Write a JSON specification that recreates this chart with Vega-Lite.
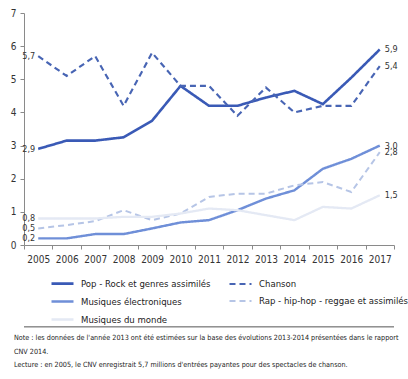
{
  "$schema": "https://vega.github.io/schema/vega-lite/v6.json",
  "width": 370,
  "height": 232,
  "autosize": "none",
  "padding": {"left": 24, "top": 13, "right": 14, "bottom": 134},
  "config": {
    "view": {"stroke": null},
    "locale": {"number": {"decimal": ",", "thousands": " ", "grouping": [3], "currency": ["", " €"]}},
    "font": "DejaVu Sans Condensed, Liberation Sans Narrow, Open Sans, sans-serif",
    "axis": {"labelFont": "DejaVu Sans Condensed, Liberation Sans Narrow, Open Sans, sans-serif", "labelColor": "#333333", "labelFontSize": 10, "domainColor": "#8a8a8a", "tickColor": "#8a8a8a", "grid": false, "title": null, "labelOverlap": false, "tickSize": 4},
    "axisY": {"values": [0, 1, 2, 3, 4, 5, 6, 7], "labelPadding": 4},
    "axisX": {"labelPadding": 5, "labelAngle": 0}
  },
  "data": {"values": [
    {"year": 2005, "series": "Pop - Rock et genres assimilés", "value": 2.9},
    {"year": 2006, "series": "Pop - Rock et genres assimilés", "value": 3.15},
    {"year": 2007, "series": "Pop - Rock et genres assimilés", "value": 3.15},
    {"year": 2008, "series": "Pop - Rock et genres assimilés", "value": 3.25},
    {"year": 2009, "series": "Pop - Rock et genres assimilés", "value": 3.75},
    {"year": 2010, "series": "Pop - Rock et genres assimilés", "value": 4.8},
    {"year": 2011, "series": "Pop - Rock et genres assimilés", "value": 4.2},
    {"year": 2012, "series": "Pop - Rock et genres assimilés", "value": 4.2},
    {"year": 2013, "series": "Pop - Rock et genres assimilés", "value": 4.45},
    {"year": 2014, "series": "Pop - Rock et genres assimilés", "value": 4.65},
    {"year": 2015, "series": "Pop - Rock et genres assimilés", "value": 4.25},
    {"year": 2016, "series": "Pop - Rock et genres assimilés", "value": 5.05},
    {"year": 2017, "series": "Pop - Rock et genres assimilés", "value": 5.9},
    {"year": 2005, "series": "Chanson", "value": 5.7},
    {"year": 2006, "series": "Chanson", "value": 5.1},
    {"year": 2007, "series": "Chanson", "value": 5.7},
    {"year": 2008, "series": "Chanson", "value": 4.2},
    {"year": 2009, "series": "Chanson", "value": 5.8},
    {"year": 2010, "series": "Chanson", "value": 4.8},
    {"year": 2011, "series": "Chanson", "value": 4.8},
    {"year": 2012, "series": "Chanson", "value": 3.9},
    {"year": 2013, "series": "Chanson", "value": 4.75},
    {"year": 2014, "series": "Chanson", "value": 4.0},
    {"year": 2015, "series": "Chanson", "value": 4.2},
    {"year": 2016, "series": "Chanson", "value": 4.2},
    {"year": 2017, "series": "Chanson", "value": 5.4},
    {"year": 2005, "series": "Musiques électroniques", "value": 0.2},
    {"year": 2006, "series": "Musiques électroniques", "value": 0.2},
    {"year": 2007, "series": "Musiques électroniques", "value": 0.33},
    {"year": 2008, "series": "Musiques électroniques", "value": 0.33},
    {"year": 2009, "series": "Musiques électroniques", "value": 0.5},
    {"year": 2010, "series": "Musiques électroniques", "value": 0.68},
    {"year": 2011, "series": "Musiques électroniques", "value": 0.75},
    {"year": 2012, "series": "Musiques électroniques", "value": 1.05},
    {"year": 2013, "series": "Musiques électroniques", "value": 1.4},
    {"year": 2014, "series": "Musiques électroniques", "value": 1.65},
    {"year": 2015, "series": "Musiques électroniques", "value": 2.3},
    {"year": 2016, "series": "Musiques électroniques", "value": 2.6},
    {"year": 2017, "series": "Musiques électroniques", "value": 3.0},
    {"year": 2005, "series": "Rap - hip-hop - reggae et assimilés", "value": 0.5},
    {"year": 2006, "series": "Rap - hip-hop - reggae et assimilés", "value": 0.6},
    {"year": 2007, "series": "Rap - hip-hop - reggae et assimilés", "value": 0.72},
    {"year": 2008, "series": "Rap - hip-hop - reggae et assimilés", "value": 1.05},
    {"year": 2009, "series": "Rap - hip-hop - reggae et assimilés", "value": 0.75},
    {"year": 2010, "series": "Rap - hip-hop - reggae et assimilés", "value": 0.95},
    {"year": 2011, "series": "Rap - hip-hop - reggae et assimilés", "value": 1.45},
    {"year": 2012, "series": "Rap - hip-hop - reggae et assimilés", "value": 1.55},
    {"year": 2013, "series": "Rap - hip-hop - reggae et assimilés", "value": 1.55},
    {"year": 2014, "series": "Rap - hip-hop - reggae et assimilés", "value": 1.8},
    {"year": 2015, "series": "Rap - hip-hop - reggae et assimilés", "value": 1.9},
    {"year": 2016, "series": "Rap - hip-hop - reggae et assimilés", "value": 1.6},
    {"year": 2017, "series": "Rap - hip-hop - reggae et assimilés", "value": 2.8},
    {"year": 2005, "series": "Musiques du monde", "value": 0.8},
    {"year": 2006, "series": "Musiques du monde", "value": 0.8},
    {"year": 2007, "series": "Musiques du monde", "value": 0.8},
    {"year": 2008, "series": "Musiques du monde", "value": 0.85},
    {"year": 2009, "series": "Musiques du monde", "value": 0.85},
    {"year": 2010, "series": "Musiques du monde", "value": 0.95},
    {"year": 2011, "series": "Musiques du monde", "value": 1.1},
    {"year": 2012, "series": "Musiques du monde", "value": 1.05},
    {"year": 2013, "series": "Musiques du monde", "value": 0.9},
    {"year": 2014, "series": "Musiques du monde", "value": 0.75},
    {"year": 2015, "series": "Musiques du monde", "value": 1.15},
    {"year": 2016, "series": "Musiques du monde", "value": 1.1},
    {"year": 2017, "series": "Musiques du monde", "value": 1.5}
  ]},
  "layer": [
    {
      "mark": {"type": "line", "clip": false},
      "encoding": {
        "x": {"field": "year", "type": "ordinal", "scale": {"type": "band", "paddingInner": 0, "paddingOuter": 0},
              "axis": {"tickBand": "extent"}},
        "y": {"field": "value", "type": "quantitative", "scale": {"domain": [0, 7], "nice": false, "zero": false}},
        "color": {"field": "series", "type": "nominal",
          "scale": {"domain": ["Pop - Rock et genres assimilés", "Musiques électroniques", "Musiques du monde", "Chanson", "Rap - hip-hop - reggae et assimilés"],
                    "range": ["#3a5ab6", "#6f8fd8", "#e4e9f4", "#4865b4", "#b6c5e6"]},
          "legend": {"orient": "none", "legendX": 26, "legendY": 258, "columns": 2, "title": null,
                     "symbolType": "stroke", "symbolSize": 484, "symbolStrokeWidth": 2.5,
                     "labelFont": "DejaVu Sans Condensed, Liberation Sans Narrow, Open Sans, sans-serif", "labelFontSize": 9.5, "labelColor": "#222222",
                     "labelOffset": 6, "rowPadding": -4, "columnPadding": 14, "labelLimit": 300}},
        "strokeDash": {"field": "series", "type": "nominal",
          "scale": {"domain": ["Pop - Rock et genres assimilés", "Musiques électroniques", "Musiques du monde", "Chanson", "Rap - hip-hop - reggae et assimilés"],
                    "range": [[1, 0], [1, 0], [1, 0], [6, 4], [6, 4]]}},
        "strokeWidth": {"field": "series", "type": "nominal",
          "scale": {"domain": ["Pop - Rock et genres assimilés", "Musiques électroniques", "Musiques du monde", "Chanson", "Rap - hip-hop - reggae et assimilés"],
                    "range": [2.6, 2, 1.5, 2.4, 2]}}
      }
    },
    {
      "transform": [{"filter": "datum.year == 2005"}],
      "mark": {"type": "text", "align": "right", "dx": -3, "fontSize": 9, "color": "#333333"},
      "encoding": {
        "x": {"field": "year", "type": "ordinal"},
        "y": {"field": "value", "type": "quantitative"},
        "text": {"field": "value", "type": "quantitative", "format": ".1f"}
      }
    },
    {
      "transform": [{"filter": "datum.year == 2017"}],
      "mark": {"type": "text", "align": "left", "dx": 5, "fontSize": 9, "color": "#333333"},
      "encoding": {
        "x": {"field": "year", "type": "ordinal"},
        "y": {"field": "value", "type": "quantitative"},
        "text": {"field": "value", "type": "quantitative", "format": ".1f"}
      }
    },
    {
      "data": {"values": [{}]},
      "mark": {"type": "rule", "color": "#555555", "strokeWidth": 1, "clip": false},
      "encoding": {"y": {"datum": -2.47, "type": "quantitative"}}
    },
    {
      "data": {"values": [{}]},
      "mark": {"type": "text", "align": "left", "baseline": "top", "dx": -10, "fontSize": 7.2, "lineHeight": 13.5, "color": "#222222",
               "text": ["Note : les données de l'année 2013 ont été estimées sur la base des évolutions 2013-2014 présentées dans le rapport", "CNV 2014.", "Lecture : en 2005, le CNV enregistrait 5,7 millions d'entrées payantes pour des spectacles de chanson."]},
      "encoding": {
        "x": {"datum": 2005, "type": "ordinal", "bandPosition": 0},
        "y": {"datum": -2.69, "type": "quantitative"}
      }
    }
  ]
}
